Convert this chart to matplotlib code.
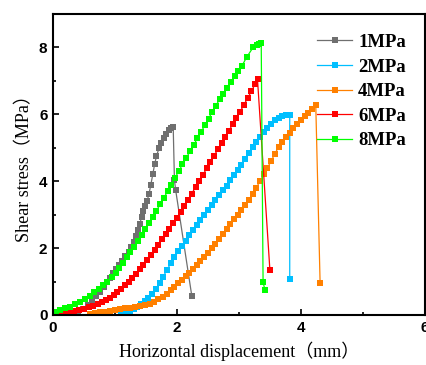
import matplotlib
matplotlib.use("Agg")
import matplotlib.pyplot as plt
import numpy as np
from matplotlib.ticker import MultipleLocator

labels = ["1MPa", "2MPa", "4MPa", "6MPa", "8MPa"]
colors = ["#6f6f6f", "#00bfff", "#ff8000", "#ff0000", "#00ff00"]

s1 = np.array([(0.40,0.08),(0.48,0.18),(0.56,0.30),(0.63,0.42),(0.70,0.56),(0.76,0.70),(0.82,0.85),
      (0.87,0.98),(0.92,1.12),(0.97,1.25),(1.02,1.38),(1.07,1.50),(1.12,1.62),(1.17,1.75),(1.22,1.88),
      (1.26,2.02),(1.30,2.18),(1.34,2.36),(1.37,2.54),(1.40,2.72),(1.43,2.92),(1.46,3.10),(1.49,3.26),
      (1.52,3.42),(1.55,3.62),(1.58,3.90),(1.61,4.20),(1.64,4.50),(1.67,4.75),(1.71,4.98),(1.75,5.15),
      (1.79,5.30),(1.83,5.42),(1.87,5.52),(1.91,5.58),(1.94,5.62),(1.96,4.03),(1.98,3.73),(2.24,0.57)])

s2 = np.array([(1.10,0.04),(1.17,0.08),(1.24,0.13),(1.30,0.18),(1.36,0.25),(1.42,0.34),(1.48,0.43),
      (1.54,0.52),(1.60,0.64),(1.66,0.78),(1.72,0.96),(1.78,1.15),(1.84,1.35),(1.90,1.54),(1.96,1.72),
      (2.02,1.90),(2.08,2.06),(2.14,2.22),(2.20,2.38),(2.26,2.53),(2.32,2.68),(2.38,2.83),(2.44,2.98),
      (2.50,3.13),(2.56,3.28),(2.62,3.43),(2.68,3.58),(2.74,3.73),(2.80,3.87),(2.86,4.02),(2.92,4.17),
      (2.98,4.32),(3.04,4.48),(3.10,4.66),(3.16,4.84),(3.22,5.02),(3.28,5.18),(3.34,5.32),(3.40,5.46),
      (3.46,5.60),(3.52,5.72),(3.58,5.83),(3.64,5.90),(3.70,5.95),(3.76,5.97),(3.82,5.97),(3.82,1.07)])

s4 = np.array([(0.60,0.04),(0.68,0.06),(0.76,0.08),(0.84,0.10),(0.92,0.12),(1.00,0.15),(1.08,0.18),
      (1.16,0.20),(1.24,0.22),(1.32,0.24),(1.40,0.27),(1.48,0.30),(1.56,0.34),(1.63,0.40),(1.70,0.47),
      (1.77,0.55),(1.84,0.64),(1.90,0.74),(1.96,0.85),(2.02,0.96),(2.08,1.06),(2.14,1.16),(2.20,1.26),
      (2.26,1.38),(2.32,1.50),(2.38,1.62),(2.44,1.74),(2.50,1.86),(2.56,1.99),(2.62,2.12),(2.68,2.27),
      (2.74,2.42),(2.80,2.57),(2.86,2.72),(2.92,2.86),(2.98,3.00),(3.04,3.14),(3.10,3.28),(3.16,3.44),
      (3.22,3.61),(3.28,3.80),(3.34,4.00),(3.40,4.20),(3.46,4.40),(3.52,4.60),(3.58,4.82),(3.64,5.02),
      (3.70,5.18),(3.76,5.32),(3.82,5.45),(3.88,5.58),(3.94,5.70),(4.00,5.82),(4.06,5.94),(4.12,6.05),
      (4.18,6.16),(4.24,6.27),(4.31,0.95)])

s6 = np.array([(0.02,0.05),(0.10,0.06),(0.18,0.08),(0.26,0.10),(0.34,0.12),(0.42,0.15),(0.50,0.19),
      (0.58,0.23),(0.65,0.28),(0.72,0.33),(0.79,0.39),(0.86,0.45),(0.92,0.52),(0.98,0.60),(1.04,0.69),
      (1.10,0.78),(1.16,0.89),(1.22,1.00),(1.28,1.11),(1.34,1.23),(1.40,1.36),(1.46,1.50),(1.52,1.65),
      (1.58,1.80),(1.64,1.95),(1.70,2.10),(1.76,2.26),(1.82,2.42),(1.88,2.58),(1.94,2.74),(2.00,2.90),
      (2.06,3.07),(2.12,3.25),(2.18,3.44),(2.24,3.63),(2.30,3.82),(2.36,4.00),(2.42,4.19),(2.48,4.38),
      (2.54,4.57),(2.60,4.76),(2.66,4.95),(2.72,5.13),(2.78,5.32),(2.84,5.51),(2.90,5.70),(2.96,5.89),
      (3.02,6.08),(3.08,6.28),(3.14,6.48),(3.20,6.68),(3.26,6.90),(3.30,7.04),(3.50,1.34)])

s8 = np.array([(0.05,0.08),(0.12,0.14),(0.20,0.20),(0.28,0.25),(0.36,0.32),(0.44,0.40),(0.52,0.48),
      (0.60,0.58),(0.67,0.68),(0.74,0.79),(0.81,0.90),(0.88,1.00),(0.95,1.14),(1.01,1.27),(1.07,1.40),
      (1.13,1.55),(1.19,1.72),(1.25,1.88),(1.31,2.04),(1.37,2.21),(1.43,2.39),(1.49,2.57),(1.55,2.75),
      (1.61,2.93),(1.67,3.12),(1.73,3.31),(1.79,3.50),(1.85,3.70),(1.91,3.90),(1.97,4.10),(2.03,4.30),
      (2.09,4.50),(2.15,4.69),(2.21,4.89),(2.27,5.08),(2.33,5.28),(2.39,5.47),(2.45,5.67),(2.51,5.87),
      (2.57,6.07),(2.63,6.26),(2.69,6.45),(2.75,6.62),(2.81,6.79),(2.87,6.96),(2.93,7.13),(2.99,7.28),
      (3.05,7.45),(3.13,7.72),(3.23,8.00),(3.29,8.06),(3.33,8.10),(3.36,8.12),(3.39,0.98),(3.42,0.75)])

series = [s1, s2, s4, s6, s8]

fig = plt.figure(figsize=(4.27, 3.65), dpi=100)
ax = fig.add_axes([0.124, 0.137, 0.871, 0.825])

for s, c, lab in zip(series, colors, labels):
    ax.plot(s[:, 0], s[:, 1], color=c, lw=0.9, marker='s', markersize=5,
            markeredgewidth=0, label=lab)

ax.set_xlim(0, 6)
ax.set_ylim(0, 9)
ax.xaxis.set_major_locator(MultipleLocator(2))
ax.xaxis.set_minor_locator(MultipleLocator(1))
ax.yaxis.set_major_locator(MultipleLocator(2))
ax.yaxis.set_minor_locator(MultipleLocator(1))
ax.tick_params(which='both', direction='in', width=1.2, top=False, right=False)
ax.tick_params(which='major', length=4, pad=4)
ax.tick_params(which='minor', length=2.5)
for lab in ax.get_xticklabels() + ax.get_yticklabels():
    lab.set_fontfamily('Liberation Sans')
    lab.set_fontweight('bold')
    lab.set_fontsize(11)
for sp in ax.spines.values():
    sp.set_linewidth(1.5)

serif = ['Liberation Serif', 'Noto Sans CJK SC']
ax.set_xlabel('Horizontal displacement（mm）', family=serif, fontsize=13, labelpad=5)
ax.set_ylabel('Shear stress（MPa）', family=serif, fontsize=13, labelpad=4)

leg = ax.legend(loc='upper left', bbox_to_anchor=(0.664, 0.99), frameon=False,
                handlelength=1.9, handletextpad=0.3, labelspacing=0.4,
                prop={'family': 'Liberation Serif', 'weight': 'bold', 'size': 13.5})

fig.savefig('out.png', dpi=100)
